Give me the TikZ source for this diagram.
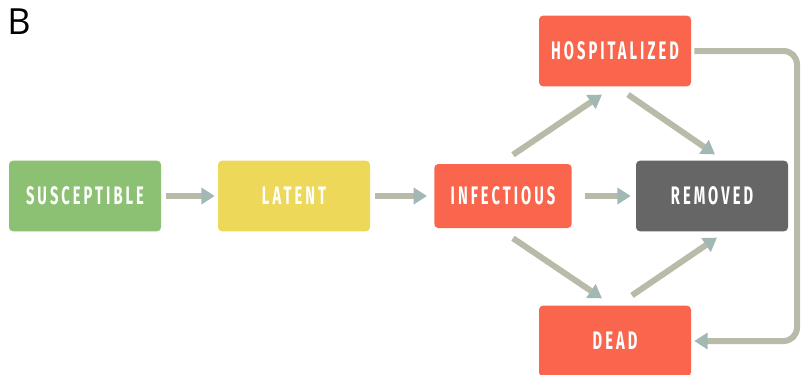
\documentclass[tikz,border=0pt]{standalone}
\usepackage{fontspec}
\usepackage{tikz}
\usetikzlibrary{arrows.meta,calc}
\newfontfamily\boxfont{Fira Sans}[FakeStretch=0.58,LetterSpace=12]
\newfontfamily\labfont{Open Sans}
\definecolor{suscol}{HTML}{8CC072}
\definecolor{latcol}{HTML}{EDD85A}
\definecolor{infcol}{HTML}{F9664D}
\definecolor{remcol}{HTML}{666666}
\definecolor{shaftcol}{HTML}{B8BBA8}
\definecolor{tipcol}{HTML}{A2B8B4}
\tikzset{
  state/.style={rounded corners=3pt, text=white, minimum width=114pt, minimum height=53pt,
    font=\boxfont\bfseries\fontsize{19}{22}\selectfont},
  flow/.style={draw=shaftcol, line width=4.5pt,
    -{Triangle[length=10pt,width=12pt,color=tipcol]}}
}
\begin{document}
\begin{tikzpicture}[x=0.75pt,y=-0.75pt]
  \useasboundingbox (0,0) rectangle (801,375);

  \node[anchor=north west, font=\labfont\fontsize{27}{30}\selectfont, inner sep=0pt] (lab) at (7,9) {B};

  % compartments
  \node[state, fill=suscol] (sus) at (85,196) {SUSCEPTIBLE};
  \node[state, fill=latcol] (lat) at (294,196) {LATENT};
  \node[state, fill=infcol, minimum width=103pt, minimum height=48pt] (inf) at (503,196) {INFECTIOUS};
  \node[state, fill=remcol] (rem) at (712,196) {REMOVED};
  \node[state, fill=infcol] (hos) at (615,51) {HOSPITALIZED};
  \node[state, fill=infcol] (dead) at (615,341) {DEAD};

  % flows
  \draw[flow] ($(sus.east)+(5,0)$) -- ($(lat.west)+(-3,0)$);
  \draw[flow] ($(lat.east)+(5,0)$) -- ($(inf.west)+(-7,0)$);
  \draw[flow] ($(inf.east)+(13,0)$) -- ($(rem.west)+(-5,0)$);
  \draw[flow] ($(inf.north)+(10,-9)$) -- ($(hos.south)+(-13,8)$);
  \draw[flow] ($(hos.south)+(13,8)$) -- ($(rem.north)+(3,-6)$);
  \draw[flow] ($(inf.south)+(10,10)$) -- ($(dead.north)+(-13,-7)$);
  \draw[flow] ($(dead.north)+(17,-10)$) -- ($(rem.south)+(5,6)$);
  \draw[flow, rounded corners=10pt] ($(hos.east)+(3,0)$) -| (797,200) |- ($(dead.east)+(3,0)$);
\end{tikzpicture}
\end{document}
